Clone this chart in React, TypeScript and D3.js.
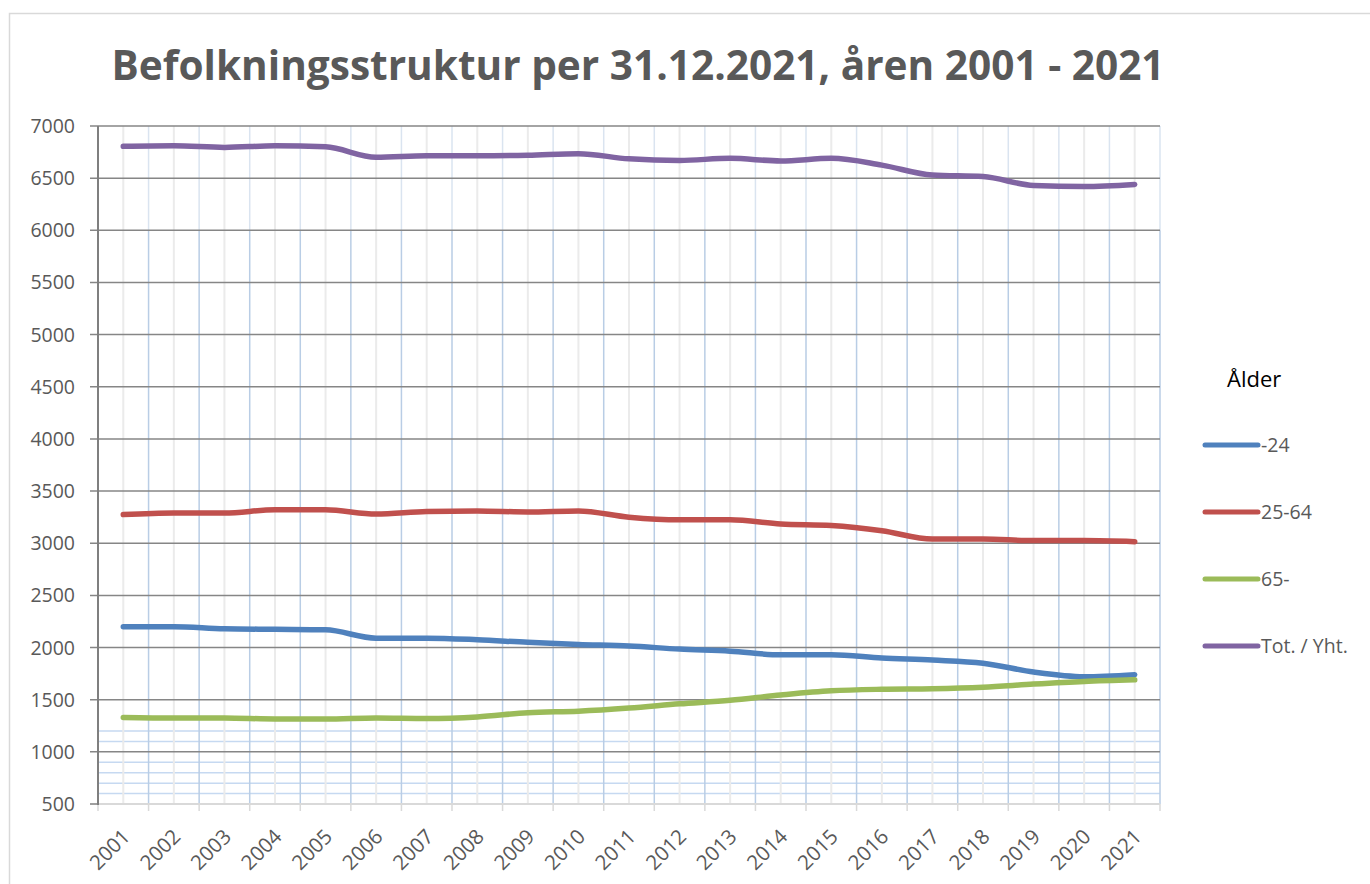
import { useEffect, useRef } from 'react';
import * as d3 from 'd3';

const years = [
  '2001', '2002', '2003', '2004', '2005', '2006', '2007', '2008', '2009', '2010', '2011',
  '2012', '2013', '2014', '2015', '2016', '2017', '2018', '2019', '2020', '2021',
];

const under24 = [
  2200, 2200, 2180, 2175, 2170, 2090, 2090, 2075, 2050, 2030, 2015,
  1985, 1965, 1930, 1930, 1900, 1880, 1850, 1765, 1720, 1740,
];
const age25to64 = [
  3275, 3290, 3290, 3320, 3320, 3280, 3305, 3310, 3300, 3310, 3250,
  3225, 3225, 3185, 3170, 3120, 3040, 3040, 3025, 3025, 3015,
];
const over65 = [
  1330, 1325, 1325, 1315, 1315, 1325, 1320, 1335, 1375, 1390, 1420,
  1460, 1495, 1545, 1585, 1600, 1605, 1620, 1650, 1675, 1690,
];
const total = [
  6805, 6810, 6795, 6810, 6800, 6700, 6715, 6715, 6720, 6735, 6685,
  6670, 6690, 6665, 6690, 6625, 6530, 6515, 6430, 6420, 6440,
];

const seriesNames = ['-24', '25-64', '65-', 'Tot. / Yht.'];
const seriesColors = ['#4f81bd', '#c0504d', '#9bbb59', '#8064a2'];
const yTicks = [500, 1000, 1500, 2000, 2500, 3000, 3500, 4000, 4500, 5000, 5500, 6000, 6500, 7000];
const minorTicks = [600, 700, 800, 900, 1100, 1200];

const title = 'Befolkningsstruktur per 31.12.2021, åren 2001 - 2021';
const legendTitle = 'Ålder';

const App = () => {
  const svgRef = useRef<SVGSVGElement | null>(null);
  const width = 1370;
  const height = 884;

  useEffect(() => {
    const svg = d3.select(svgRef.current);
    svg.selectAll('*').remove();

    const font = "'Open Sans', sans-serif";
    const left = 98, right = 1160, top = 126, bottom = 804;

    // outer chart border
    svg.append('rect')
      .attr('x', 9.5).attr('y', 13.5)
      .attr('width', width).attr('height', height)
      .attr('fill', '#fff').attr('stroke', '#d9d9d9').attr('stroke-width', 1.5);

    const x = d3.scaleBand().domain(years).range([left, right]).padding(0);
    const y = d3.scaleLinear().domain([500, 7000]).range([bottom, top]);
    const cx = (d: string) => (x(d) as number) + x.bandwidth() / 2;

    // title
    svg.append('text')
      .attr('x', 638).attr('y', 80)
      .attr('text-anchor', 'middle')
      .style('font-family', font)
      .style('font-weight', 700)
      .style('font-size', '40.6px')
      .style('fill', '#595959')
      .text(title);

    const grid = svg.append('g');

    // minor horizontal lines
    grid.selectAll('.minor')
      .data(minorTicks)
      .enter().append('line')
      .attr('x1', left).attr('x2', right)
      .attr('y1', d => y(d)).attr('y2', d => y(d))
      .attr('stroke', '#c6d9f1').attr('stroke-width', 1.5);

    // vertical lines at category centres
    grid.selectAll('.vc')
      .data(years)
      .enter().append('line')
      .attr('x1', d => cx(d)).attr('x2', d => cx(d))
      .attr('y1', top).attr('y2', bottom)
      .attr('stroke', '#ebebeb').attr('stroke-width', 2);

    // vertical lines at category boundaries
    const bounds = years.slice(1).map(d => x(d) as number).concat([right]);
    grid.selectAll('.vbTop')
      .data(bounds)
      .enter().append('line')
      .attr('x1', d => d).attr('x2', d => d)
      .attr('y1', top).attr('y2', y(6000))
      .attr('stroke', '#dae4f0').attr('stroke-width', 1.5);
    grid.selectAll('.vb')
      .data(bounds)
      .enter().append('line')
      .attr('x1', d => d).attr('x2', d => d)
      .attr('y1', y(6000)).attr('y2', bottom)
      .attr('stroke', '#b9cde5').attr('stroke-width', 1.5);

    // major horizontal lines
    grid.selectAll('.major')
      .data(yTicks.filter(d => d > 500))
      .enter().append('line')
      .attr('x1', left - 8).attr('x2', right)
      .attr('y1', d => y(d)).attr('y2', d => y(d))
      .attr('stroke', '#868686').attr('stroke-width', 1.5);

    // x axis line and ticks
    grid.append('line')
      .attr('x1', left).attr('x2', right)
      .attr('y1', bottom).attr('y2', bottom)
      .attr('stroke', '#d9d9d9').attr('stroke-width', 2);
    grid.selectAll('.xt')
      .data([left].concat(bounds))
      .enter().append('line')
      .attr('x1', d => d).attr('x2', d => d)
      .attr('y1', bottom).attr('y2', bottom + 7)
      .attr('stroke', '#d9d9d9').attr('stroke-width', 1.5);

    // y axis
    grid.append('line')
      .attr('x1', left).attr('x2', left)
      .attr('y1', top).attr('y2', bottom + 1)
      .attr('stroke', '#7f7f7f').attr('stroke-width', 2);
    grid.append('line')
      .attr('x1', left - 8).attr('x2', left)
      .attr('y1', bottom).attr('y2', bottom)
      .attr('stroke', '#7f7f7f').attr('stroke-width', 1.5);

    // y labels
    svg.selectAll('.yl')
      .data(yTicks)
      .enter().append('text')
      .attr('x', 75).attr('y', d => y(d) + 7)
      .attr('text-anchor', 'end')
      .style('font-family', font)
      .style('font-size', '19.5px')
      .style('fill', '#595959')
      .text(d => d);

    // x labels
    svg.selectAll('.xl')
      .data(years)
      .enter().append('text')
      .attr('transform', d => `translate(${cx(d) + 8},${bottom + 34}) rotate(-45)`)
      .attr('text-anchor', 'end')
      .style('font-family', font)
      .style('font-size', '20.5px')
      .style('fill', '#595959')
      .text(d => d);

    // lines
    const allSeries = [under24, age25to64, over65, total];
    const line = d3.line<number>()
      .x((_, i) => cx(years[i]))
      .y(d => y(d))
      .curve(d3.curveMonotoneX);

    allSeries.forEach((vals, i) => {
      svg.append('path')
        .datum(vals)
        .attr('fill', 'none')
        .attr('stroke', seriesColors[i])
        .attr('stroke-width', 5.5)
        .attr('stroke-linecap', 'round')
        .attr('stroke-linejoin', 'round')
        .attr('d', line);
    });

    // legend
    svg.append('text')
      .attr('x', 1227).attr('y', 387)
      .style('font-family', font)
      .style('font-size', '22px')
      .style('fill', '#000')
      .text(legendTitle);

    const legend = svg.append('g');
    seriesNames.forEach((name, i) => {
      const ly = 445 + i * 67;
      legend.append('line')
        .attr('x1', 1205).attr('x2', 1258)
        .attr('y1', ly).attr('y2', ly)
        .attr('stroke', seriesColors[i])
        .attr('stroke-width', 5)
        .attr('stroke-linecap', 'round');
      legend.append('text')
        .attr('x', 1261).attr('y', ly + 7)
        .style('font-family', font)
        .style('font-size', '19.5px')
        .style('fill', '#595959')
        .text(name);
    });
  }, []);

  return (
    <svg
      ref={svgRef}
      width={width}
      height={height}
      style={{ position: 'absolute', left: 0, top: 0, background: '#fff' }}
    />
  );
};

export default App;
